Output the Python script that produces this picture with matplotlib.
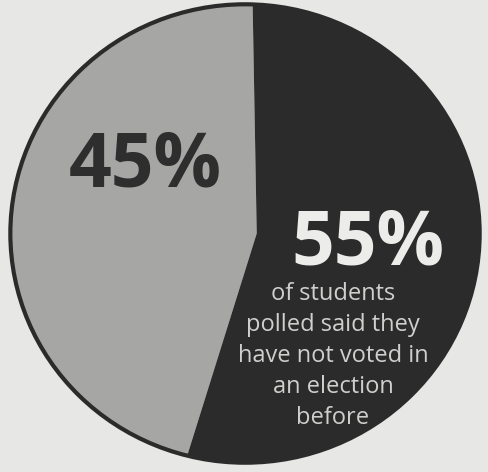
import matplotlib
matplotlib.use("Agg")
import matplotlib.pyplot as plt
from matplotlib.patches import Ellipse

# poll result: share of students who have / have not voted before
groups = ["have voted", "have not voted"]
shares = [45, 55]
slice_colors = ["#a6a6a4", "#2b2b2b"]
pct_colors = ["#2e2e2e", "#ececea"]
note = "of students\npolled said they\nhave not voted in\nan election\nbefore"

W, H = 489, 472
fig = plt.figure(figsize=(W / 100, H / 100), dpi=100)
fig.patch.set_facecolor("#e7e7e5")

# axes box = bounding box of the (slightly squashed) disc in pixels
left, right, top, bottom = 8, 482, 2, 465
ax = fig.add_axes([left / W, 1 - bottom / H, (right - left) / W, (bottom - top) / H])

# the printed wedges meet a little right of the disc centre, so draw them
# off-centre and larger, then clip to the disc
wedges, _ = ax.pie(shares, colors=slice_colors, startangle=91, radius=1.2,
                   center=(0.05, 0), wedgeprops=dict(linewidth=0))
disc = Ellipse((0, 0), 2, 2, fill=False, lw=0)
ax.add_patch(disc)
for w in wedges:
    w.set_clip_on(True)   # pie turns clipping off for its wedges
    w.set_clip_path(disc)
ax.add_patch(Ellipse((0, 0), 2, 2, fill=False, ec="#2b2b2b", lw=3))
ax.set_aspect("auto")
ax.set_xlim(-1.01, 1.01)
ax.set_ylim(-1.01, 1.01)
ax.axis("off")


def px(x, y):
    return x / W, 1 - y / H


# big percentages
pct_pos = [(145, 167), (368, 245)]
for s, c, (x, y) in zip(shares, pct_colors, pct_pos):
    fig.text(*px(x, y), f"{s}%", color=c, fontsize=54, fontweight="bold",
             family="Open Sans", ha="center", va="center")

fig.text(*px(333, 356), note, color="#cfcfcd", fontsize=17, family="Open Sans",
         ha="center", va="center", multialignment="center", linespacing=1.38)

fig.savefig("out.png", dpi=100, facecolor=fig.get_facecolor())
